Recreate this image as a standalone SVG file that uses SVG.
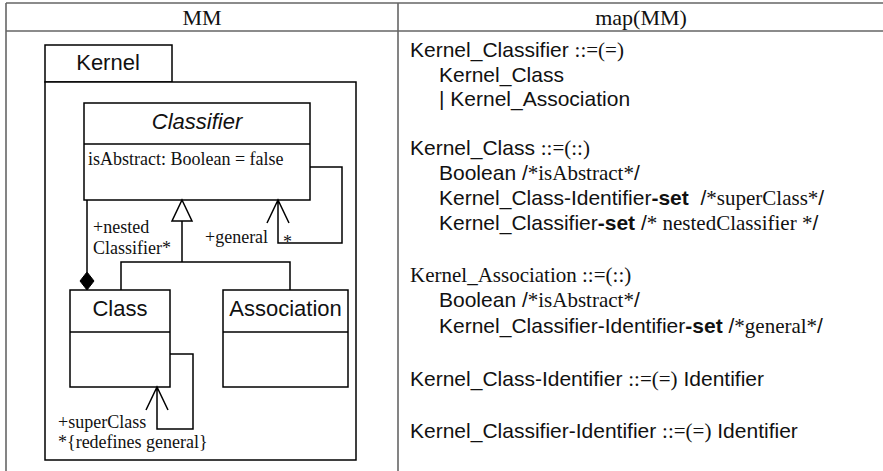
<svg xmlns="http://www.w3.org/2000/svg" width="883" height="471" viewBox="0 0 883 471">
<style>
.tbl{stroke:#666;stroke-width:1.6;fill:none}
.box{stroke:#000;stroke-width:1.5;fill:#fff}
.ln{stroke:#000;stroke-width:1.5;fill:none}
.hd{font-family:"Liberation Serif",serif;font-size:22px;fill:#111;text-anchor:middle}
.nm{font-family:"Liberation Sans",sans-serif;font-size:22px;fill:#111;text-anchor:middle}
.sr{font-family:"Liberation Serif",serif;font-size:18px;fill:#111}
.rc{font-family:"Liberation Sans",sans-serif;font-size:21px;fill:#111}
.s{font-family:"Liberation Serif",serif}
.b{font-weight:bold}
</style>
<rect width="883" height="471" fill="#fff"/>
<g id="table">
<path class="tbl" d="M6,3 H883 M6,31 H883 M6,3 V471 M398,3 V471"/>
<text class="hd" x="202" y="25">MM</text>
<text class="hd" x="641" y="25">map(MM)</text>
</g>
<g id="kernel">
<rect class="box" x="45" y="45" width="127" height="37"/>
<rect class="box" x="45" y="82" width="311" height="378"/>
<text class="nm" x="108" y="70">Kernel</text>
</g>
<g id="classifier">
<rect class="box" x="84" y="103" width="226" height="97"/>
<line class="ln" x1="84" y1="144" x2="310" y2="144"/>
<text class="nm" x="197" y="129" font-style="italic">Classifier</text>
<text class="sr" x="88" y="165">isAbstract: Boolean = false</text>
</g>
<g id="class">
<rect class="box" x="70" y="290" width="100" height="97"/>
<line class="ln" x1="70" y1="332" x2="170" y2="332"/>
<text class="nm" x="120" y="316">Class</text>
</g>
<g id="association">
<rect class="box" x="223" y="290" width="125" height="97"/>
<line class="ln" x1="223" y1="332" x2="348" y2="332"/>
<text class="nm" x="285.5" y="316">Association</text>
</g>
<g id="connectors">
<path class="ln" d="M310,167 H342 V243 H278 V200 M267,223 L278,200 L289,223"/>
<path class="ln" d="M182,221 V262 M121,290 V262 H290 V290"/>
<polygon class="box" points="182,200 192,221 172,221"/>
<path class="ln" d="M87,200 V272"/>
<polygon points="87,272 94,281 87,290 80,281" fill="#000" stroke="#000" stroke-width="1"/>
<path class="ln" d="M170,354 H193 V429 H157 V387 M146,410 L157,387 L168,410"/>
<text class="sr" x="205" y="243">+general</text>
<text class="sr" x="283" y="248">*</text>
<text class="sr" x="93" y="233">+nested</text>
<text class="sr" x="93" y="254">Classifier*</text>
<text class="sr" x="58" y="428">+superClass</text>
<text class="sr" x="58" y="448">*{redefines general}</text>
</g>
<g id="mapping">
<text class="rc" x="410" y="57">Kernel_Classifier <tspan class="s">::=(=)</tspan></text>
<text class="rc" x="439" y="82">Kernel_Class</text>
<text class="rc" x="439" y="106">| Kernel_Association</text>
<text class="rc" x="410" y="155">Kernel_Class <tspan class="s">::=(::)</tspan></text>
<text class="rc" x="439" y="180">Boolean /<tspan class="s">*isAbstract*</tspan>/</text>
<text class="rc" x="439" y="205" xml:space="preserve">Kernel_Class-Identifier<tspan class="b">-set</tspan>  /<tspan class="s">*superClass*</tspan>/</text>
<text class="rc" x="439" y="230">Kernel_Classifier<tspan class="b">-set</tspan> /<tspan class="s">* nestedClassifier *</tspan>/</text>
<text class="rc s" x="410" y="282">Kernel_Association ::=(::)</text>
<text class="rc" x="439" y="307">Boolean /<tspan class="s">*isAbstract*</tspan>/</text>
<text class="rc" x="439" y="333">Kernel_Classifier-Identifier<tspan class="b">-set</tspan> /<tspan class="s">*general*</tspan>/</text>
<text class="rc" x="410" y="386">Kernel_Class-Identifier <tspan class="s">::=(=)</tspan> Identifier</text>
<text class="rc" x="410" y="438">Kernel_Classifier-Identifier <tspan class="s">::=(=)</tspan> Identifier</text>
</g>
</svg>
